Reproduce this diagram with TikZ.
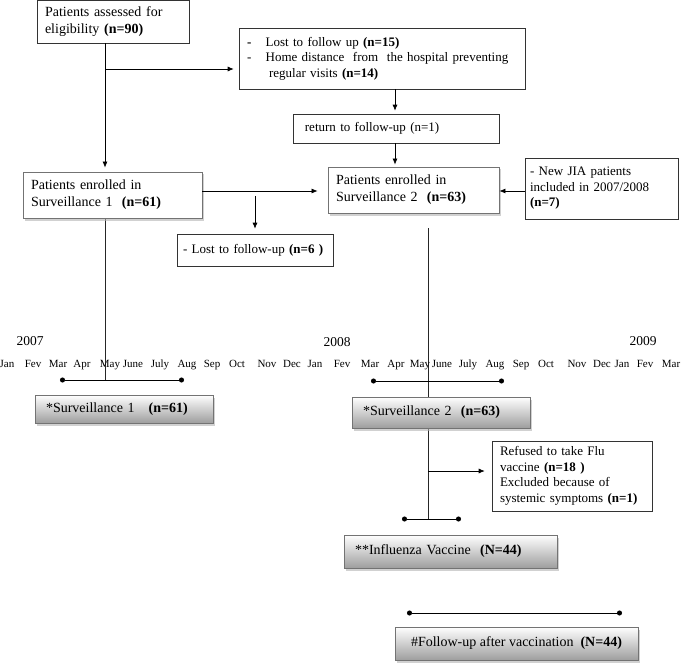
\documentclass[tikz,border=0pt]{standalone}
\usepackage{fontspec}
\setmainfont{Liberation Serif}
\usetikzlibrary{arrows.meta, positioning, shadows, backgrounds}

\begin{document}
\begin{tikzpicture}[
    x=1pt, y=-1pt,
    box/.style={draw=black!80, line width=0.6pt, fill=white, align=left, inner xsep=8pt, inner ysep=2pt, font=\fontsize{13}{15.5}\selectfont},
    mainbox/.style={box, font=\fontsize{14}{17}\selectfont},
    enrolled/.style={mainbox, draw=black!55, line width=0.8pt, drop shadow={shadow xshift=2pt, shadow yshift=-2.5pt, fill=black!30, opacity=0.6}},
    period/.style={mainbox, draw=black!55, top color=white, bottom color=black!38, inner xsep=11pt, drop shadow={shadow xshift=2pt, shadow yshift=-2.5pt, fill=black!30, opacity=0.6}},
    arrow/.style={-{Latex[length=6pt, width=5pt]}, line width=0.7pt},
    spine/.style={line width=0.7pt, black!85},
    span/.style={{Circle[length=5pt]}-{Circle[length=5pt]}, line width=1pt},
    year/.style={anchor=base, font=\fontsize{13.5}{15}\selectfont},
    month/.style={anchor=base, font=\fontsize{11}{12}\selectfont}
  ]
    \useasboundingbox (0,0) rectangle (685,663);

    \node[mainbox, text width=136pt, minimum height=43pt] (assessed) at (113,21.5) {Patients assessed for\\eligibility \textbf{(n=90)}};
    \node[box, text width=270pt, minimum height=61pt] (lost) at (382,58.5) {\textbf{-}\hspace{1.1em}Lost to follow up \textbf{(n=15)}\\-\hspace{1.1em}Home distance\ \ from\ \ the hospital preventing\\\hspace*{1.7em}regular visits \textbf{(n=14)}};
    \node[box, text width=190pt, minimum height=29pt] (rejoined) at (396,128.5) {\hspace*{0.3em}return to follow-up (n=1)};
    \node[enrolled, text width=155pt, minimum height=46pt] (surv2) at (413.5,190) {Patients enrolled in\\Surveillance 2\ \ \textbf{(n=63)}};
    \node[box, inner xsep=5pt, text width=143pt, minimum height=61pt] (newjia) at (601.5,188.5) {- New JIA patients\\included in 2007/2008\\\textbf{(n=7)}};
    \node[enrolled, text width=163pt, minimum height=46pt] (surv1) at (112.5,195) {Patients enrolled in\\Surveillance 1\ \ \textbf{(n=61)}};
    \node[box, inner xsep=6pt, text width=144pt, minimum height=32pt] (lost1) at (255,250) {\mbox{- Lost to follow-up \textbf{(n=6~)}}};

    \node[year] (y2007) at (30,345) {2007};
    \node[year] (y2008) at (337,346) {2008};
    \node[year] (y2009) at (643,345) {2009};
    \foreach \m/\x [count=\i] in {Jan/7, Fev/33, Mar/58, Apr/82, May/110, June/133, July/160, Aug/187, Sep/212, Oct/237, Nov/267, Dec/292,
        Jan/315, Fev/342, Mar/370, Apr/396, May/420, June/442, July/468, Aug/495, Sep/521, Oct/546, Nov/577, Dec/602, Jan/622, Fev/645, Mar/671}
      \node[month] (mon\i) at (\x,367) {\m};

    \node[period, text width=156pt, minimum height=28pt] (period1) at (124,409) {*Surveillance 1\ \ \ \textbf{(n=61)}};
    \node[period, text width=156pt, minimum height=31pt] (period2) at (441,412.5) {*Surveillance 2\ \ \textbf{(n=63)}};
    \node[box, text width=144pt, minimum height=70pt] (refused) at (572,476) {Refused to take Flu\\vaccine \textbf{(n=18 )}\\Excluded because of\\systemic symptoms \textbf{(n=1)}};
    \node[period, text width=191pt, minimum height=33pt] (vaccine) at (450.5,551.5) {**Influenza Vaccine\ \ \textbf{(N=44)}};
    \node[period, minimum width=243pt, minimum height=33pt] (followup) at (516.5,643.5) {\#Follow-up after vaccination\ \ \textbf{(N=44)}};

    \coordinate (col1) at (105,0);
    \coordinate (col2) at (428,0);
    \coordinate (col3) at (395,0);
    \coordinate (split1) at (105,69);
    \coordinate (row1) at (0,191);
    \coordinate (split2) at (428,471);
    \coordinate (top2) at (428,228);
    \coordinate (span1a) at (60,380);
    \coordinate (span1b) at (184,380);
    \coordinate (span2a) at (371,381);
    \coordinate (span2b) at (504,381);
    \coordinate (span3a) at (402,519);
    \coordinate (span3b) at (461,519);
    \coordinate (span4a) at (407,613);
    \coordinate (span4b) at (622,613);

    \draw[arrow, shorten >=4pt] (assessed.south -| col1) -- (surv1.north -| col1);
    \draw[arrow, shorten >=5pt] (split1) -- (lost.west |- split1);
    \draw[arrow, shorten >=3pt] (lost.south -| col3) -- (rejoined.north -| col3);
    \draw[arrow, shorten >=2pt] (rejoined.south -| col3) -- (surv2.north -| col3);
    \draw[arrow] (newjia.west |- row1) -- (surv2.east |- row1);
    \draw[arrow, shorten >=10pt] (surv1.east |- row1) -- (surv2.west |- row1);
    \draw[arrow, shorten <=5pt, shorten >=5pt] (lost1.north |- row1) -- (lost1.north);
    \draw[arrow, shorten >=7pt] (split2) -- (refused.west |- split2);

    \draw[span] (span1a) -- (span1b);
    \draw[span] (span2a) -- (span2b);
    \draw[span] (span3a) -- (span3b);
    \draw[span] (span4a) -- (span4b);

    \begin{scope}[on background layer]
      \draw[spine] (surv1.south -| col1) -- (span1a -| col1);
      \draw[spine] (top2) -- (span3a -| col2);
    \end{scope}
  \end{tikzpicture}
\end{document}
